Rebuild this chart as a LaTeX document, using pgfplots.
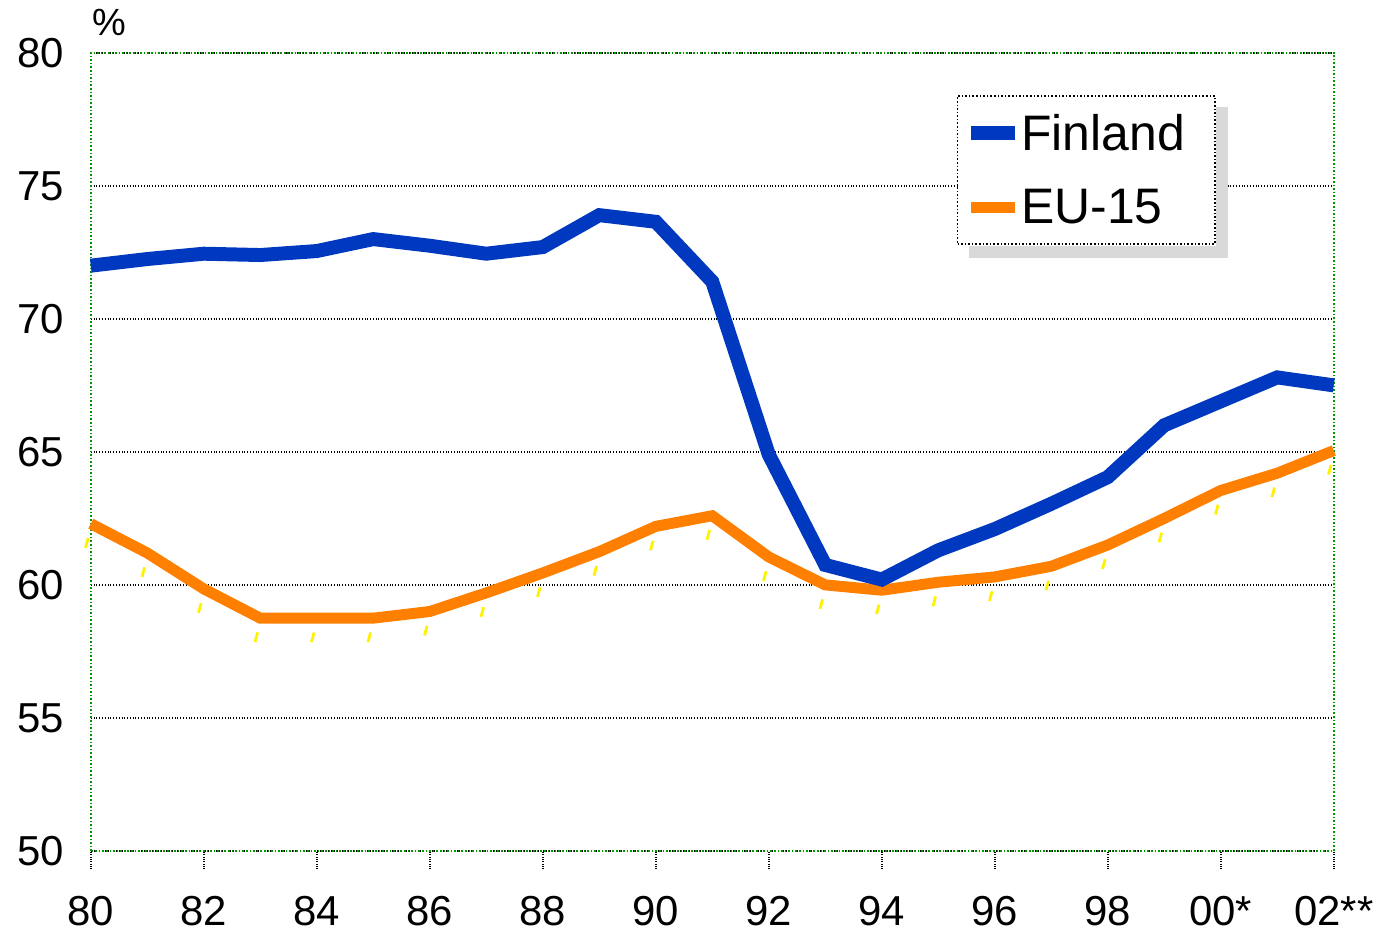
\documentclass[border=0pt]{standalone}
\usepackage{pgfplots}
\pgfplotsset{compat=1.18}
\usepackage{pgfplotstable}
\usepackage{fontspec}
\setmainfont{Liberation Sans}
\usetikzlibrary{calc}
\definecolor{finblue}{RGB}{0,57,191}
\definecolor{euorange}{RGB}{255,128,0}
\definecolor{framegreen}{RGB}{0,150,0}
\pgfplotstableread{
x fin eu
80 72.0 62.3
81 72.25 61.2
82 72.45 59.85
83 72.4 58.75
84 72.55 58.75
85 73.0 58.75
86 72.75 59.0
87 72.45 59.7
88 72.7 60.45
89 73.9 61.25
90 73.65 62.2
91 71.4 62.6
92 64.9 61.05
93 60.75 60.0
94 60.2 59.8
95 61.3 60.1
96 62.1 60.3
97 63.05 60.7
98 64.05 61.5
99 66.0 62.5
100 66.9 63.55
101 67.8 64.2
102 67.5 65.05
}\datatable
\begin{document}
\begin{tikzpicture}
\begin{axis}[
  scale only axis,
  width=623pt, height=400pt,
  xmin=80, xmax=102, ymin=50, ymax=80,
  clip=false,
  axis line style={framegreen, densely dotted, line width=0.8pt},
  xtick={80,82,...,102},
  xticklabels={80,82,84,86,88,90,92,94,96,98,00*,02**},
  ytick={50,55,...,80},
  xtick pos=lower,
  tick align=outside,
  xtick style={black, densely dotted, line width=0.8pt},
  major tick length=9pt,
  ytick style={draw=none},
  ymajorgrids,
  major grid style={black, densely dotted, line width=0.8pt},
  tick label style={font=\fontsize{21}{21}\selectfont},
  yticklabel style={xshift=-1pt},
  xticklabel style={yshift=-10pt},
  /pgf/number format/assume math mode=true,
  legend style={name=leg, at={(0.905,0.947)}, anchor=north east,
    draw=black, densely dotted, line width=0.8pt,
    fill=white,
    font=\fontsize{25}{25}\selectfont,
    row sep=14pt, inner xsep=3.5pt, inner ysep=7pt,
    nodes={solid}},
  legend cell align=left,
  reverse legend,
  legend image code/.code={\draw[#1, solid] (0pt,0pt) -- (22pt,0pt);},
]
\addplot[euorange, line width=5.5pt, solid] table[x=x, y=eu] {\datatable};
\addlegendentry{\hspace*{-2.5pt}EU-15}
\addplot[finblue, line width=7pt, solid] table[x=x, y=fin] {\datatable};
\addlegendentry{\hspace*{-2.5pt}Finland\hspace*{9.5pt}}
\addplot[forget plot, draw=none, mark=|, mark size=2.5pt,
  mark options={yellow, line width=1.4pt, rotate=-15}]
  table[x expr=\thisrow{x}-0.07, y expr=\thisrow{eu}-0.72] {\datatable};
\node[font=\fontsize{19}{19}\selectfont] at ([xshift=9.5pt,yshift=15pt]rel axis cs:0,1) {\%};
\end{axis}
\fill[black!15] ($(leg.north east)+(0.4pt,-6pt)$) rectangle ($(leg.south east)+(6.4pt,-6.4pt)$);
\fill[black!15] ($(leg.south west)+(6pt,-0.4pt)$) rectangle ($(leg.south east)+(0.4pt,-6.4pt)$);
\path ($(current axis.south west)+(-45.5pt,-38.5pt)$) rectangle ($(current axis.north east)+(21.5pt,26.5pt)$);
\end{tikzpicture}
\end{document}
